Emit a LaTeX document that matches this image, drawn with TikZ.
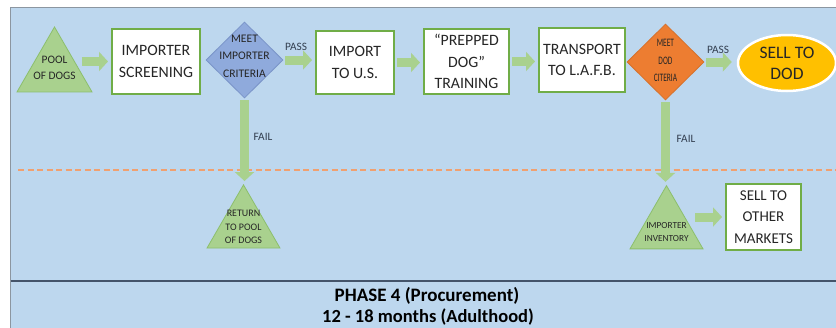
\documentclass[tikz,border=0pt]{standalone}
\usepackage{fontspec}
\setmainfont{Carlito}
\usepackage{graphicx}
\usetikzlibrary{arrows.meta,shapes.geometric}
\definecolor{panelblue}{HTML}{BDD7EE}
\definecolor{paneledge}{HTML}{8C96A0}
\definecolor{sepline}{HTML}{44546A}
\definecolor{trigreen}{HTML}{A9D18E}
\definecolor{triedge}{HTML}{8CBF6C}
\definecolor{arrowgreen}{HTML}{A9D18E}
\definecolor{boxgreen}{HTML}{70AD47}
\definecolor{bluedia}{HTML}{8FAADC}
\definecolor{bluediaedge}{HTML}{7A94C8}
\definecolor{orangedia}{HTML}{ED7D31}
\definecolor{gold}{HTML}{FFC000}
\definecolor{dashorange}{HTML}{F0A070}
\definecolor{textdark}{HTML}{262626}
\definecolor{labeldark}{HTML}{333F50}
\newcommand\cond[1]{\scalebox{0.65}[1]{#1}}
\begin{document}
\begin{tikzpicture}[x=1pt,y=-1pt,
  box/.style={draw=boxgreen, line width=2pt, fill=white, inner sep=0pt, align=center,
    text=textdark, font=\fontsize{15.8}{21.5}\selectfont},
  tri/.style={regular polygon, regular polygon sides=3, fill=trigreen, draw=triedge,
    line width=0.8pt, inner sep=0pt},
  dia/.style={diamond, inner sep=0pt, minimum width=77pt, minimum height=76pt, line width=0.8pt},
  garrow/.style={draw=arrowgreen, line width=9pt, -{Triangle[length=9pt,width=19pt]},
    shorten <=2pt, shorten >=3pt},
  flag/.style={text=labeldark, font=\fontsize{11.3}{13}\selectfont, inner sep=0pt},
  intext/.style={align=center, text=textdark, inner sep=0pt}
]
\useasboundingbox (0,0) rectangle (836,327);
\clip (0,0) rectangle (836,327);
% panel
\fill[white] (0,0) rectangle (836,327);
\draw[fill=panelblue, draw=paneledge, line width=1.5pt] (10.5,7.5) rectangle (850,340);
\draw[draw=sepline, line width=2pt] (10.5,280.5) -- (850,280.5);
\draw[draw=dashorange, line width=1.5pt, dash pattern=on 6pt off 3.5pt] (18,170) -- (836,170);

% top row
\node[tri, minimum size=86.6pt,
  label={[name=poolt, intext, font=\fontsize{11.4}{16}\selectfont, yshift=2.5pt]center:POOL\\OF DOGS}]
  (pool) at (54.5,70.3) {};
\node[box, minimum width=88pt, minimum height=65pt] (scr) at (156,61.5) {IMPORTER\\SCREENING};
\node[dia, fill=bluedia, draw=bluediaedge,
  label={[name=d1t, intext, font=\fontsize{11.6}{17.5}\selectfont, yshift=4pt]center:MEET\\IMPORTER\\CRITERIA}]
  (d1) at (244.5,60) {};
\node[box, minimum width=78pt, minimum height=63pt] (imp) at (355,62.5) {IMPORT\\TO U.S.};
\node[box, minimum width=85pt, minimum height=65pt] (prep) at (466.5,61.5) {“PREPPED\\DOG”\\TRAINING};
\node[box, minimum width=86pt, minimum height=64pt] (trans) at (582,60) {TRANSPORT\\TO L.A.F.B.};
\node[dia, fill=orangedia, draw=orangedia!90!black,
  label={[name=d2t, intext, font=\fontsize{11.4}{17.5}\selectfont, yshift=1.5pt]center:\cond{MEET}\\\cond{DOD}\\\cond{CITERIA}}]
  (d2) at (665.5,62) {};
\node[ellipse, minimum width=98pt, minimum height=56pt, inner sep=0pt, fill=gold, draw=white,
  line width=2.5pt, align=center, text=textdark, font=\fontsize{17.5}{21}\selectfont]
  (dod) at (787,63) {SELL TO\\DOD};

% bottom row
\node[tri, minimum size=84.3pt,
  label={[name=rett, intext, font=\fontsize{10}{13.3}\selectfont]center:RETURN\\TO POOL\\OF DOGS}]
  (ret) at (243.5,227) {};
\node[tri, minimum size=84.3pt,
  label={[name=invt, intext, font=\fontsize{9.3}{13.5}\selectfont, yshift=-4pt]center:IMPORTER\\INVENTORY}]
  (inv) at (666.5,227.8) {};
\node[box, minimum width=75pt, minimum height=66pt, font=\fontsize{15}{21.5}\selectfont]
  (other) at (763.5,217) {SELL TO\\OTHER\\MARKETS};

% connectors
\draw[garrow] (pool.east |- scr.west) -- (scr.west);
\draw[garrow] (d1.east) -- (d1.east -| imp.west);
\draw[garrow] (imp.east) -- (imp.east -| prep.west);
\draw[garrow] (prep.east) -- (prep.east -| trans.west);
\draw[garrow, shorten >=5pt] (d2.east) -- (d2.east -| dod.west);
\draw[garrow] (d1.south) -- (d1.south |- ret.north);
\draw[garrow] (d2.south) -- (d2.south |- inv.north);
\draw[garrow, shorten <=4pt] (inv.east |- other.west) -- (other.west);

% labels
\node[flag] (pass1) at (296,47) {PASS};
\node[flag] (pass2) at (718,50) {PASS};
\node[flag] (fail1) at (263,137) {FAIL};
\node[flag] (fail2) at (686,139) {FAIL};

% title
\node[anchor=base, inner sep=0pt, text=black, font=\bfseries\fontsize{19}{22}\selectfont]
  (title) at (427,301) {PHASE 4 (Procurement)};
\node[anchor=base, inner sep=0pt, text=black, font=\bfseries\fontsize{18.5}{22}\selectfont]
  (sub) at (428,322) {12 - 18 months (Adulthood)};
\end{tikzpicture}
\end{document}
